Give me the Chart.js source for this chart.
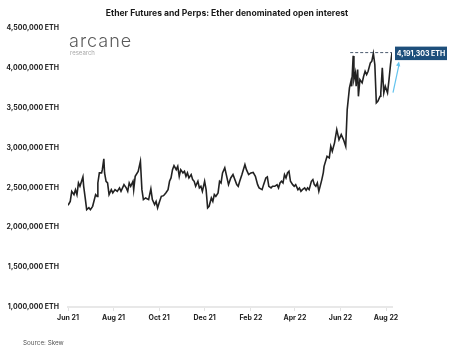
<!DOCTYPE html>
<html>
<head>
<meta charset="utf-8">
<script src="https://cdn.jsdelivr.net/npm/chart.js@4"></script>
<style>
  html, body { margin: 0; padding: 0; background: #fff; }
  #wrap { width: 460px; height: 351px; position: relative; }
</style>
</head>
<body>
<div id="wrap"><canvas id="c"></canvas></div>
<script>
/* ===== Ether futures & perps open interest (ETH), Jun 21 – Aug 22 ===== */
const tickDays = [0, 61, 122, 183, 245, 304, 365, 426]; // days since 2021-06-01
const tickLabels = ["Jun 21", "Aug 21", "Oct 21", "Dec 21", "Feb 22", "Apr 22", "Jun 22", "Aug 22"];

const dayOffsets = [
  0, 3, 5, 8, 10, 12, 14, 16, 20, 21, 23, 25, 28, 30, 33, 37, 39, 40, 42, 45, 46, 48, 49, 51, 53, 55, 58, 60, 63, 66,
  69, 71, 75, 78, 80, 82, 84, 87, 88, 90, 94, 97, 99, 101, 104, 108,
  111, 113, 116, 118, 120, 122, 125, 128, 131, 134, 136, 138, 140, 142, 145, 147, 149, 151, 154, 156, 158, 160, 162, 165,
  167, 169, 171, 174, 176, 178, 180, 183, 185, 187, 189, 192, 194, 196, 198, 201, 203, 205, 207, 210, 213, 215, 218, 221,
  226, 228, 230, 233, 237, 239, 242, 245, 248, 251, 254, 256, 260, 262, 265, 267, 269, 272, 274, 277, 280, 282, 284, 286,
  288, 290, 292, 294, 296, 298, 301, 303, 305, 308, 310, 312, 314, 317, 319, 321, 323, 326, 328, 330, 332, 334, 336, 340, 342,
  343, 347, 350, 352, 354, 357, 360, 363, 366, 369, 372, 374, 377, 379, 380, 382, 383, 385, 386, 388, 389, 391, 394, 396,
  398, 400, 402, 405, 407, 409, 411, 413, 415, 418, 419, 421, 423, 425, 428, 430, 432, 434
];

// open interest, thousands of ETH
const oiThousands = [
  2275, 2325, 2451, 2410, 2472, 2410, 2556, 2514, 2632, 2514, 2372, 2221, 2246, 2221, 2263, 2410, 2388, 2556, 2682, 2682,
  2723, 2858, 2682, 2577, 2556, 2410, 2472, 2431, 2472, 2451, 2494, 2451, 2535, 2494, 2451, 2556, 2514, 2577, 2472, 2639,
  2702, 2828, 2472, 2347, 2368, 2347,
  2481, 2347, 2284, 2325, 2243, 2305, 2388, 2397, 2431, 2472, 2577, 2619, 2723, 2774, 2723, 2765, 2639, 2723, 2682, 2702,
  2639, 2682, 2619, 2661, 2598, 2577, 2514, 2577, 2494, 2514, 2451, 2577, 2472, 2243, 2263, 2368, 2325, 2410, 2388, 2431,
  2577, 2556, 2682, 2745, 2619, 2535, 2619, 2661,
  2535, 2514, 2577, 2661, 2786, 2723, 2661, 2682, 2689, 2639, 2535, 2494, 2472, 2535, 2619, 2632, 2514, 2494, 2514, 2514,
  2535, 2494, 2556, 2577, 2556, 2661, 2619, 2682, 2702, 2577, 2535, 2514, 2535, 2472, 2494, 2451, 2472, 2494, 2464, 2494,
  2472, 2577, 2598, 2535, 2514, 2556, 2451, 2598, 2686,
  2765, 2890, 2870, 3016, 2953, 3059, 3225, 3100, 3163, 3100, 3016, 3477, 3749, 3832, 3769, 4150, 3853, 3937, 3769, 3979,
  3643, 3853, 3812, 3894, 3957, 3916, 3957, 4063, 4083, 4180, 4041, 3561, 3581, 3643, 3686, 4000, 3686, 3769, 3686, 3853,
  4041, 4191.303
];

const lastValue = 4191303;
const dashFromDay = 378;
const FONT = "Inter, 'Open Sans', sans-serif";

const fmtEth = (v) => v.toLocaleString("en-US") + " ETH";

// title, logo, source line and the "latest value" call-out
const decor = {
  id: "decor",
  afterDatasetsDraw(chart) {
    const { ctx, scales: { x, y } } = chart;
    ctx.save();

    ctx.fillStyle = "#1a1a1a";
    ctx.font = `700 8.6px ${FONT}`;
    ctx.textAlign = "center"; ctx.textBaseline = "middle";
    ctx.fillText("Ether Futures and Perps: Ether denominated open interest", 227, 13.5);

    ctx.textAlign = "left"; ctx.textBaseline = "alphabetic";
    ctx.fillStyle = "#5a5a5a";
    ctx.font = `300 18px ${FONT}`;
    ctx.letterSpacing = "1px";
    ctx.fillText("arcane", 69, 46.5);
    ctx.letterSpacing = "0px";
    ctx.fillStyle = "#a8a8a8";
    ctx.font = `400 6px ${FONT}`;
    ctx.fillText("research", 70, 54.5);

    ctx.fillStyle = "#555";
    ctx.font = `400 6.3px ${FONT}`;
    ctx.textBaseline = "middle";
    ctx.fillText("Source: Skew", 23, 343);

    // dashed line at the latest level
    const xEnd = x.getPixelForValue(dayOffsets[dayOffsets.length - 1]);
    const yTop = y.getPixelForValue(lastValue);
    ctx.strokeStyle = "#4b5a6e"; ctx.lineWidth = 1; ctx.setLineDash([3, 2]);
    ctx.beginPath(); ctx.moveTo(x.getPixelForValue(dashFromDay), yTop); ctx.lineTo(xEnd, yTop); ctx.stroke();
    ctx.setLineDash([]);

    // arrow
    const ax0 = xEnd + 1, ay0 = yTop + 40, ax1 = xEnd + 7, ay1 = yTop + 9;
    ctx.strokeStyle = "#62c3ee"; ctx.fillStyle = "#62c3ee"; ctx.lineWidth = 1.2;
    ctx.beginPath(); ctx.moveTo(ax0, ay0); ctx.lineTo(ax1, ay1 + 3); ctx.stroke();
    const ang = Math.atan2(ay1 - ay0, ax1 - ax0);
    ctx.beginPath();
    ctx.moveTo(ax1, ay1);
    ctx.lineTo(ax1 - 5 * Math.cos(ang - 0.45), ay1 - 5 * Math.sin(ang - 0.45));
    ctx.lineTo(ax1 - 5 * Math.cos(ang + 0.45), ay1 - 5 * Math.sin(ang + 0.45));
    ctx.closePath(); ctx.fill();

    // value box
    const bx = xEnd + 3, by = yTop - 6, bw = 52, bh = 13.5;
    ctx.fillStyle = "#1e4f7b";
    ctx.fillRect(bx, by, bw, bh);
    ctx.fillStyle = "#fff";
    ctx.font = `700 7px ${FONT}`;
    ctx.textAlign = "center"; ctx.textBaseline = "middle";
    ctx.fillText(fmtEth(lastValue), bx + bw / 2, by + bh / 2 + 0.5);

    ctx.restore();
  },
};

new Chart(document.getElementById("c"), {
  type: "line",
  data: {
    datasets: [{
      label: "Open interest",
      data: dayOffsets.map((d, i) => ({ x: d, y: oiThousands[i] * 1000 })),
      borderColor: "#222",
      borderWidth: 1.6,
      pointRadius: 0,
      tension: 0,
    }],
  },
  options: {
    responsive: true, maintainAspectRatio: false, animation: false,
    layout: { padding: { left: 0, right: 68, top: 28, bottom: 0 } },
    plugins: { legend: { display: false }, tooltip: { enabled: false } },
    scales: {
      x: {
        type: "linear", min: 0, max: 434,
        afterBuildTicks: (s) => { s.ticks = tickDays.map((v) => ({ value: v })); },
        afterFit: (s) => { s.height = 44; },
        ticks: {
          autoSkip: false, maxRotation: 0, padding: 3, color: "#222",
          font: { family: FONT, size: 7, weight: "700" },
          callback: (v, i) => tickLabels[i],
        },
        grid: { display: true, drawOnChartArea: false, drawTicks: true, tickLength: 4, color: "#e2e2e2" },
        border: { display: true, color: "#e8e8e8", width: 2 },
      },
      y: {
        min: 1000000, max: 4500000,
        afterFit: (s) => { s.width = 68; },
        ticks: {
          stepSize: 500000, padding: 9, color: "#222",
          font: { family: FONT, size: 7, weight: "700" },
          callback: (v) => fmtEth(v),
        },
        grid: { display: false, drawTicks: false },
        border: { display: false },
      },
    },
  },
  plugins: [decor],
});
</script>
</body>
</html>
